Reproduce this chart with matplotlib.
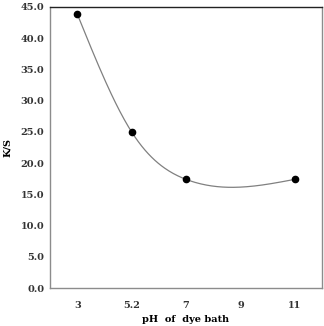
import numpy as np
import matplotlib
matplotlib.use("Agg")
import matplotlib.pyplot as plt

ph_labels = ["3", "5.2", "7", "9", "11"]
point_idx = [0, 1, 2, 4]
ks_values = [43.9, 25.0, 17.4, 17.4]
y_ticks = [0, 5, 10, 15, 20, 25, 30, 35, 40, 45]


def natural_spline(xs, ys, n=200):
    # smoothed connecting line through the data points
    x = np.asarray(xs, float)
    y = np.asarray(ys, float)
    h = np.diff(x)
    m = len(x)
    A = np.zeros((m, m))
    b = np.zeros(m)
    A[0, 0] = A[-1, -1] = 1
    for i in range(1, m - 1):
        A[i, i - 1] = h[i - 1]
        A[i, i] = 2 * (h[i - 1] + h[i])
        A[i, i + 1] = h[i]
        b[i] = 6 * ((y[i + 1] - y[i]) / h[i] - (y[i] - y[i - 1]) / h[i - 1])
    M = np.linalg.solve(A, b)
    xx = np.linspace(x[0], x[-1], n)
    yy = np.empty_like(xx)
    for j, xv in enumerate(xx):
        i = min(np.searchsorted(x, xv, side='right') - 1, m - 2)
        hi = h[i]
        a = x[i + 1] - xv
        c = xv - x[i]
        yy[j] = (M[i] * a ** 3 / (6 * hi) + M[i + 1] * c ** 3 / (6 * hi)
                 + (y[i] / hi - M[i] * hi / 6) * a + (y[i + 1] / hi - M[i + 1] * hi / 6) * c)
    return xx, yy


plt.rcParams['font.family'] = ['DejaVu Serif']
fig = plt.figure(figsize=(3.24, 3.26), dpi=100)
ax = fig.add_axes([50 / 324, 38 / 326, 272 / 324, 281 / 326])

sx, sy = natural_spline(point_idx, ks_values)
ax.plot(sx, sy, color='#808080', lw=0.9, zorder=2)
ax.plot(point_idx, ks_values, 'o', color='black', ms=4.5, zorder=3)

ax.set_xlim(-0.5, 4.5)
ax.set_ylim(0, 45)
ax.set_xticks(range(len(ph_labels)))
ax.set_xticklabels(ph_labels)
ax.set_yticks(y_ticks)
ax.set_yticklabels(["%.1f" % v for v in y_ticks])
ax.tick_params(axis='both', labelsize=7, length=0, pad=9)
ax.tick_params(axis='y', pad=4)
for lab in ax.get_xticklabels() + ax.get_yticklabels():
    lab.set_fontweight('bold')
    lab.set_color('#333333')

ax.spines['left'].set_color('#8c8c8c')
ax.spines['bottom'].set_color('#8c8c8c')
ax.spines['right'].set_color('#8c8c8c')
ax.spines['top'].set_color('#222222')
for s in ax.spines.values():
    s.set_linewidth(1.0)

ax.set_ylabel("K/S", fontsize=7, fontweight='bold', labelpad=6)
ax.set_xlabel("pH  of  dye bath", fontsize=7, fontweight='bold', labelpad=4)

fig.savefig("out.png", dpi=100)
